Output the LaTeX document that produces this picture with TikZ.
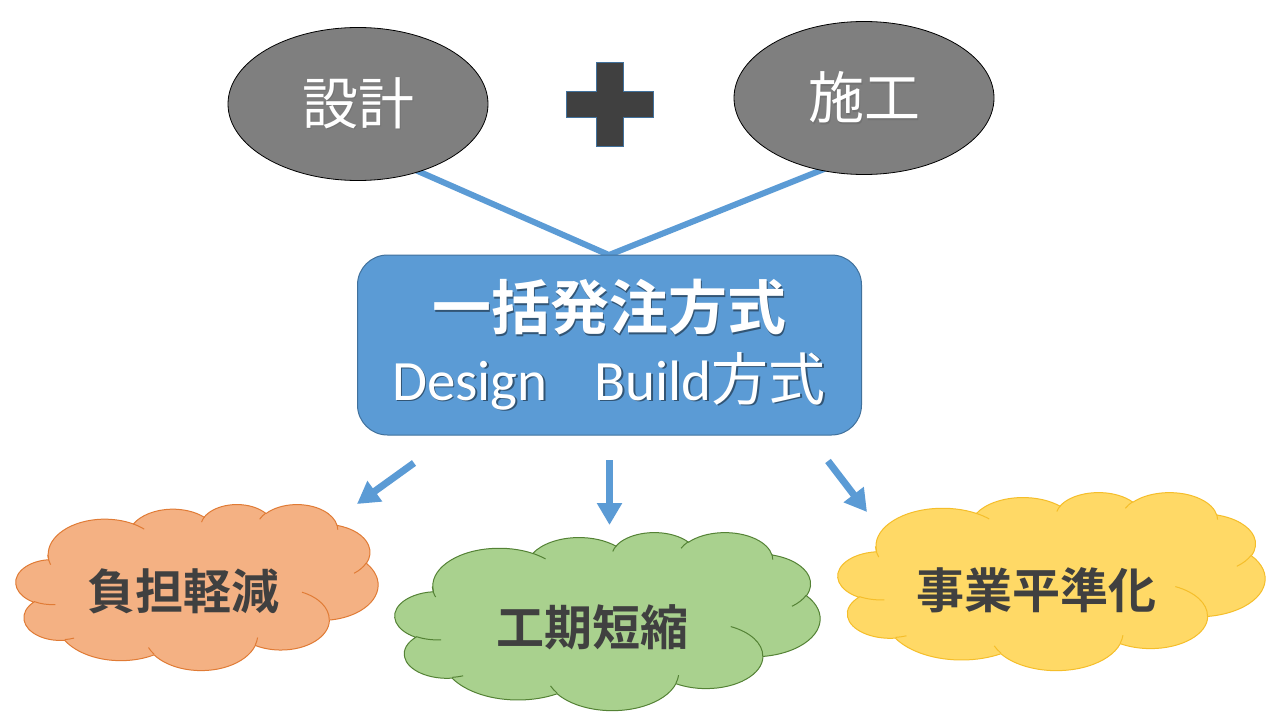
\documentclass[tikz,border=0pt]{standalone}
\usepackage{fontspec}
\setmainfont{Carlito}
\newfontfamily\jp{Noto Sans CJK JP}
\newfontfamily\jpb{Noto Sans CJK JP Bold}
\usetikzlibrary{shapes.geometric,arrows.meta}
\definecolor{ellgray}{HTML}{7F7F7F}
\definecolor{plusgray}{HTML}{404040}
\definecolor{bblue}{HTML}{5B9BD5}
\definecolor{bblueline}{HTML}{41719C}
\definecolor{txtdark}{HTML}{404040}
\definecolor{orfill}{HTML}{F4B183}
\definecolor{ordraw}{HTML}{E07B35}
\definecolor{grfill}{HTML}{A9D18E}
\definecolor{grdraw}{HTML}{548235}
\definecolor{yefill}{HTML}{FFD966}
\definecolor{yedraw}{HTML}{F5BE2A}
% text with a soft drop shadow
\newcommand\shtxt[2]{\makebox[0pt][l]{\hspace{1.5pt}\raisebox{-1.5pt}{\textcolor{#1}{#2}}}#2}
% DrawingML arcTo (visual angles) -> TikZ arc (parametric angles)
\newcommand\ooarc[4]{\pgfextra{%
  \pgfmathsetmacro\ooa{atan2((#1)*sin(#3),(#2)*cos(#3))}%
  \pgfmathsetmacro\oob{atan2((#1)*sin((#3)+(#4)),(#2)*cos((#3)+(#4)))}%
  \pgfmathsetmacro\ood{mod(\oob-\ooa+720,360)}%
  \xdef\ooA{\ooa}\xdef\ooD{\ood}}%
  arc[x radius=#1,y radius=#2,start angle=\ooA,delta angle=\ooD]}
% PowerPoint cloud: #1 x0, #2 y0, #3 w, #4 h, #5 fill, #6 draw
\newcommand\pptcloud[6]{%
\begin{scope}[shift={(#1,#2)},xscale=#3/432,yscale=#4/432]
 \path[fill=#5,draw=#6,line width=1pt] (39.00,143.70)
   \ooarc{67.53}{91.90}{-190.4875}{123.7805}
   \ooarc{53.33}{72.67}{-144.1024}{89.9452}
   \ooarc{43.65}{59.45}{-145.8079}{99.7230}
   \ooarc{48.57}{65.95}{-130.9861}{117.2417}
   \ooarc{53.33}{72.73}{-78.7089}{109.0269}
   \ooarc{67.75}{92.20}{-46.2673}{130.2690}
   \ooarc{57.85}{78.67}{0.6250}{114.0333}
   \ooarc{67.52}{92.15}{22.4516}{115.1726}
   \ooarc{77.20}{105.43}{66.2426}{75.7110}
   \ooarc{43.60}{59.18}{-274.9421}{146.7356}
   \ooarc{43.45}{59.45}{-246.8285}{152.5189} -- cycle;
 \path[draw=#6,line width=1pt]
   (46.93,261.77) \ooarc{43.45}{59.45}{86.742}{26.4295}
   (69.28,348.99) \ooarc{43.60}{59.18}{73.6105}{11.4475}
   (164.78,390.90) \ooarc{67.52}{92.15}{137.6242}{14.0811}
   (288.27,347.51) \ooarc{67.52}{92.15}{6.4533}{15.9984}
   (341.29,229.54) \ooarc{57.85}{78.67}{-70.2924}{70.9174}
   (417.98,153.54) \ooarc{53.33}{72.73}{30.3180}{27.7515}
   (383.24,54.26) \ooarc{48.57}{65.95}{-13.7443}{14.8589}
   (290.78,39.52) \ooarc{48.57}{65.95}{-149.1815}{18.1954}
   (221.41,47.20) \ooarc{43.65}{59.45}{-163.4943}{17.6864}
   (140.00,51.92) \ooarc{67.53}{91.90}{-66.7070}{12.3194}
   (41.27,157.89) \ooarc{67.53}{91.90}{155.6472}{21.5026};
\end{scope}}
\tikzset{
  topell/.style={ellipse,draw=black,line width=0.8pt,fill=ellgray,
    minimum width=260pt,minimum height=153pt,inner sep=0pt,text=white,
    font=\jp\fontsize{56}{60}\selectfont},
  mainbox/.style={rectangle,rounded corners=30pt,draw=bblueline,line width=1pt,
    fill=bblue,minimum width=504pt,minimum height=180pt},
  conn/.style={draw=bblue,line width=6pt},
  arr/.style={draw=bblue,line width=7pt,-{Triangle[length=22pt,width=24pt]}},
  cloudtxt/.style={text=txtdark,inner sep=0pt,font=\jpb\fontsize{48}{52}\selectfont}
}
\begin{document}
\begin{tikzpicture}[x=1pt,y=-1pt]
\fill[white] (0,0) rectangle (1280,720);
\useasboundingbox (0,0) rectangle (1280,720);
% connector lines (behind ellipses and box)
\coordinate (l1) at (401,163.7);
\coordinate (l2) at (843,161.5);
\coordinate (v) at (609,255);
\draw[conn] (l1) -- (v) -- (l2);
% top ellipses
\node[topell] (e1) at (358,104) {\shtxt{black!55}{設計}};
\node[topell] (e2) at (864,98) {\shtxt{black!55}{施工}};
% plus sign
\path[fill=plusgray,draw=bblueline,line width=0.7pt]
  (596,62) -- (623,62) -- (623,91) -- (653,91) -- (653,117) -- (623,117)
  -- (623,146) -- (596,146) -- (596,117) -- (566,117) -- (566,91) -- (596,91) -- cycle;
% main box
\node[mainbox] (box) at (609.5,345) {};
\node[text=white,inner sep=0pt,font=\jpb\fontsize{59}{62}\selectfont] (t1) at (609,308)
  {\shtxt{bblue!55!black}{一括発注方式}};
\node[text=white,inner sep=0pt,anchor=base,font=\fontsize{57}{62}\selectfont] (t2) at (609,400)
  {\shtxt{bblue!55!black}{Design\hspace{47pt}Build{\jp 方式}}};
% arrows
\coordinate (a1s) at (414,463); \coordinate (a1e) at (357,504);
\coordinate (a2s) at (609.5,460); \coordinate (a2e) at (609.5,525);
\coordinate (a3s) at (828,461); \coordinate (a3e) at (867,512);
\draw[arr] (a1s) -- (a1e);
\draw[arr] (a2s) -- (a2e);
\draw[arr] (a3s) -- (a3e);
% clouds
\pptcloud{16}{504}{362}{166}{orfill}{ordraw}
\pptcloud{395}{532}{425}{178}{grfill}{grdraw}
\pptcloud{838}{492}{427}{178}{yefill}{yedraw}
\node[cloudtxt] (c1) at (183,591) {負担軽減};
\node[cloudtxt] (c2) at (592,627) {工期短縮};
\node[cloudtxt] (c3) at (1036,590) {事業平準化};
\end{tikzpicture}
\end{document}
